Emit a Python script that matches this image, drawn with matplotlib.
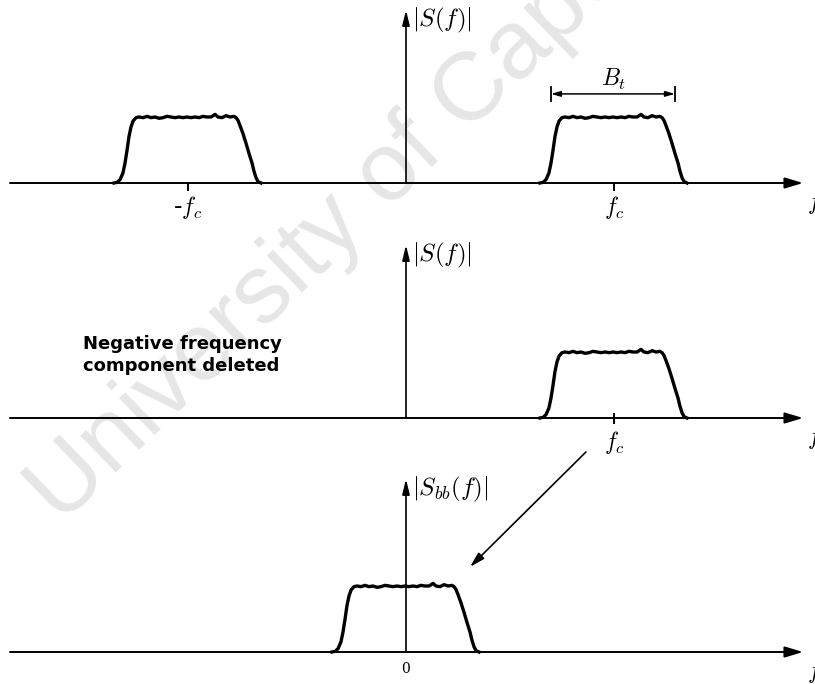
import numpy as np
import matplotlib.pyplot as plt

plt.rcParams['mathtext.fontset'] = 'cm'
plt.rcParams['font.family'] = 'DejaVu Sans'

# spectrum profile of one band: offset from the carrier (in units of fc) and magnitude
band_offset = [-0.356, -0.341, -0.327, -0.313, -0.303, -0.293, -0.284, -0.274, -0.264, -0.250, -0.236,
               -0.216, -0.197, -0.178, -0.159, -0.139, -0.120, -0.101, -0.082, -0.063, -0.043, -0.024,
               -0.005, 0.014, 0.034, 0.053, 0.072, 0.091, 0.111, 0.130, 0.144, 0.163, 0.183, 0.202, 0.221,
               0.231, 0.240, 0.250, 0.264, 0.279, 0.293, 0.308, 0.317, 0.327, 0.337, 0.351]
band_level = [0.00, 0.01, 0.05, 0.15, 0.30, 0.50, 0.70, 0.85, 0.94, 0.99, 1.00,
              0.99, 1.01, 0.99, 1.00, 0.98, 0.99, 1.01, 1.00, 0.99, 1.00, 0.99,
              1.00, 0.99, 1.00, 0.99, 1.01, 1.00, 1.00, 1.04, 1.00, 0.99, 1.02, 1.00, 1.01,
              0.99, 0.95, 0.87, 0.75, 0.60, 0.45, 0.30, 0.18, 0.08, 0.02, 0.00]

fc = 1.0
neg_fc = -1.048                   # negative-frequency image as sketched
bt_edges = [-0.303, 0.293]        # transmission bandwidth B_t around the carrier

# carriers present in each panel and the labels under the frequency axis
panel_carriers = [[neg_fc, fc], [fc], [0.0]]
panel_ylabels = [r'$|S(f)|$', r'$|S(f)|$', r'$|S_{bb}(f)|$']
panel_ticks = [[neg_fc, fc], [fc], []]
panel_ticklabels = [['-$f_c$', '$f_c$'], ['$f_c$'], []]

W, H = 815, 684
fig = plt.figure(figsize=(W / 100, H / 100), dpi=100)

# faint watermark behind the drawing
fig.text(0.075, 0.232, 'University of Cape Town', fontsize=70, color='#e6e6e6',
         rotation=44, rotation_mode='anchor', ha='left', va='baseline',
         family='Liberation Sans', zorder=-5)

baselines = [183, 418, 652]       # axis position of each panel, pixels from the top
unit = 66.0                        # pixels per unit magnitude
ylo, yhi = -0.55, 2.75
x0 = 406.0
px_per_f = 208.0
xlim = (-x0 / px_per_f, (W - x0) / px_per_f)

axes = []
for k, base in enumerate(baselines):
    bottom = H - base + ylo * unit
    ax = fig.add_axes([0, bottom / H, 1, (yhi - ylo) * unit / H])
    ax.set_xlim(*xlim)
    ax.set_ylim(ylo, yhi)
    ax.axis('off')
    ax.patch.set_alpha(0)
    axes.append(ax)

    # frequency axis
    ax.annotate('', xy=(1.909, 0), xytext=(-1.904, 0),
                arrowprops=dict(arrowstyle='-|>,head_length=1.1,head_width=0.33',
                                lw=1.4, color='black', shrinkA=0, shrinkB=0),
                annotation_clip=False)
    ax.text(1.93, -0.3, '$f$', fontsize=17, ha='left', va='center', clip_on=False)

    # magnitude axis
    ax.annotate('', xy=(0, 2.62), xytext=(0, 0),
                arrowprops=dict(arrowstyle='-|>,head_length=0.9,head_width=0.22',
                                lw=1.2, color='black', shrinkA=0, shrinkB=0),
                annotation_clip=False)
    ax.text(0.03, 2.47, panel_ylabels[k], fontsize=18, ha='left', va='center')

    for c in panel_carriers[k]:
        ax.plot(c + np.array(band_offset), band_level, color='black', lw=2.4,
                solid_joinstyle='round', zorder=3)

    for t, lab in zip(panel_ticks[k], panel_ticklabels[k]):
        if k == 0:
            ax.plot([t, t], [0, -0.11], color='black', lw=1.4)
        else:
            ax.plot([t, t], [0.06, -0.07], color='black', lw=1.4)
        ax.text(t, -0.37, lab, fontsize=17, ha='center', va='center')

ax1, ax2, ax3 = axes

# bandwidth marker above the right band
bt_y = 1.35
ax1.annotate('', xy=(fc + bt_edges[1], bt_y), xytext=(fc + bt_edges[0], bt_y),
             arrowprops=dict(arrowstyle='<|-|>,head_length=0.55,head_width=0.16',
                             lw=1.1, color='black', shrinkA=0, shrinkB=0))
for e in bt_edges:
    ax1.plot([fc + e, fc + e], [bt_y - 0.1, bt_y + 0.1], color='black', lw=1.3)
ax1.text(fc, bt_y + 0.22, '$B_t$', fontsize=17, ha='center', va='center')

ax2.text(-1.553, 0.95, 'Negative frequency\ncomponent deleted', fontsize=13,
         fontweight='bold', family='DejaVu Sans', ha='left', va='center',
         linespacing=1.3)

# shift of the positive band down to baseband
ax3.annotate('', xy=(0.308, 1.29), xytext=(0.865, 3.03),
             arrowprops=dict(arrowstyle='-|>,head_length=0.9,head_width=0.25',
                             lw=1.2, color='black', shrinkA=0, shrinkB=0),
             annotation_clip=False)
ax3.text(0, -0.26, '0', fontsize=10, family='DejaVu Serif', ha='center', va='center')

fig.savefig('out.png', dpi=100)
